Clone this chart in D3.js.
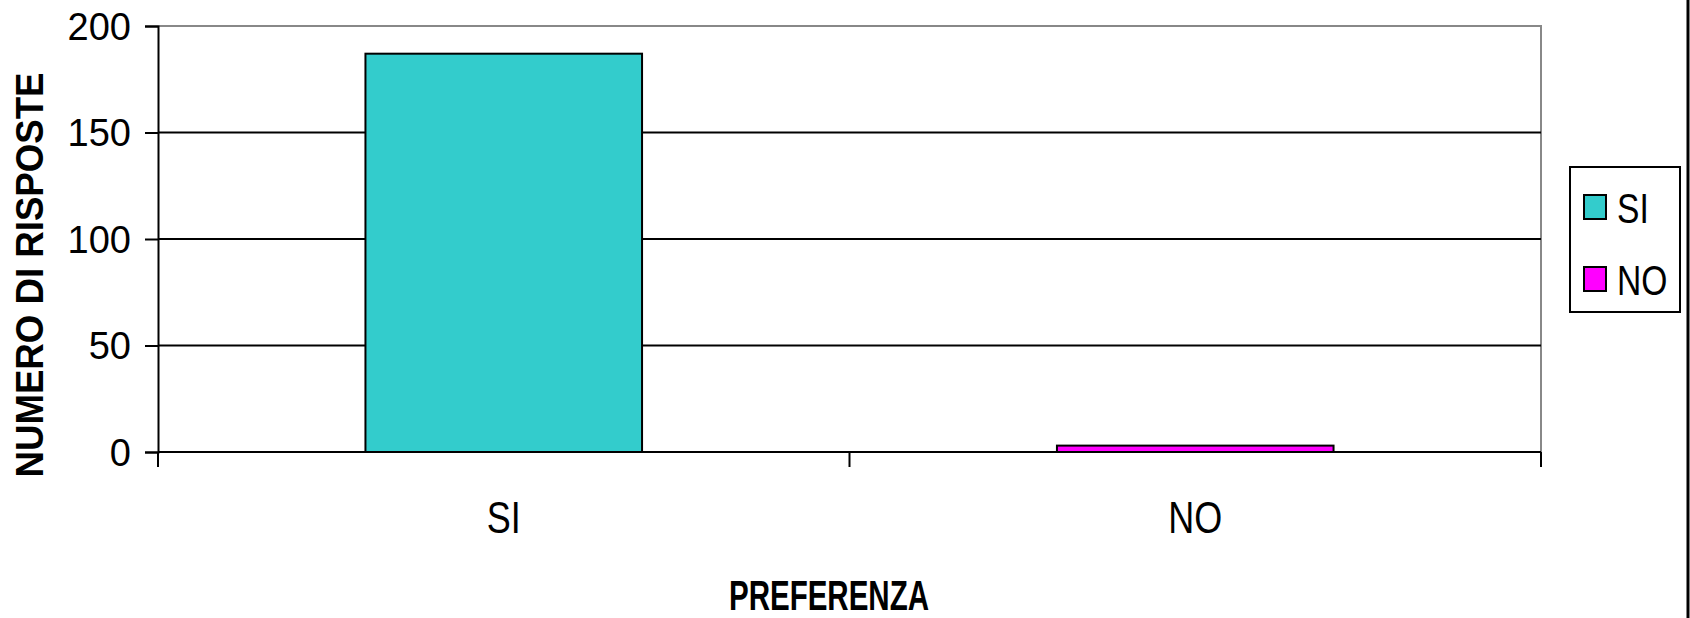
<!DOCTYPE html>
<meta charset="utf-8">
<body style="margin:0;background:#fff">
<script src="https://d3js.org/d3.v7.min.js"></script>
<script>
var categories = ["SI", "NO"];
var values = [187, 3];
var colors = ["#33cccc", "#ff00ff"];
var yTicks = [0, 50, 100, 150, 200];

var width = 1690, height = 618;
var margin = {left: 158, right: 149, top: 26, bottom: 166};

var svg = d3.select("body").append("svg")
    .attr("width", width)
    .attr("height", height)
    .style("display", "block");

var x = d3.scaleBand()
    .domain(categories)
    .range([margin.left, width - margin.right])
    .paddingInner(0.6)
    .paddingOuter(0.3);

var y = d3.scaleLinear()
    .domain([0, 200])
    .range([height - margin.bottom, margin.top]);

var x0 = margin.left, x1 = width - margin.right;

// squeeze text horizontally, like Arial Narrow
function narrow(sel, k) {
  sel.each(function() {
    var w = this.getComputedTextLength();
    d3.select(this)
      .attr("textLength", w * k)
      .attr("lengthAdjust", "spacingAndGlyphs");
  });
}

// plot border (top + right, grey)
svg.append("path")
    .attr("d", "M" + x0 + "," + y(200) + "H" + x1 + "V" + y(0))
    .attr("fill", "none")
    .attr("stroke", "#888")
    .attr("stroke-width", 2);

// gridlines
svg.append("g").selectAll("line")
    .data(yTicks.filter(function(d) { return d > 0 && d < 200; }))
    .enter().append("line")
    .attr("x1", x0).attr("x2", x1)
    .attr("y1", function(d) { return y(d); })
    .attr("y2", function(d) { return y(d); })
    .attr("stroke", "#000")
    .attr("stroke-width", 2);

// bars
svg.append("g").selectAll("rect")
    .data(values)
    .enter().append("rect")
    .attr("x", function(d, i) { return x(categories[i]); })
    .attr("width", x.bandwidth())
    .attr("y", function(d) { return y(d); })
    .attr("height", function(d) { return y(0) - y(d); })
    .attr("fill", function(d, i) { return colors[i]; })
    .attr("stroke", "#000")
    .attr("stroke-width", 2);

// y axis
var yAxis = svg.append("g")
    .attr("transform", "translate(" + x0 + ",0)")
    .call(d3.axisLeft(y).tickValues(yTicks).tickSize(13).tickPadding(14));
yAxis.select(".domain").attr("stroke-width", 2);
yAxis.selectAll(".tick line").attr("stroke-width", 2);
yAxis.selectAll("text")
    .attr("dy", "0.35em")
    .style("font-family", "'Liberation Sans', Arial, sans-serif")
    .style("font-size", "38px")
    .attr("fill", "#000");

// x axis: ticks on category boundaries
var bounds = [x0, (x0 + x1) / 2, x1];
var xAxis = svg.append("g");
xAxis.append("line")
    .attr("x1", x0).attr("x2", x1)
    .attr("y1", y(0)).attr("y2", y(0))
    .attr("stroke", "#000").attr("stroke-width", 2);
xAxis.selectAll("line.tk")
    .data(bounds)
    .enter().append("line")
    .attr("class", "tk")
    .attr("x1", function(d) { return d; }).attr("x2", function(d) { return d; })
    .attr("y1", y(0)).attr("y2", y(0) + 15)
    .attr("stroke", "#000").attr("stroke-width", 2);
xAxis.selectAll("text")
    .data(categories)
    .enter().append("text")
    .attr("x", function(d) { return x(d) + x.bandwidth() / 2; })
    .attr("y", 533)
    .attr("text-anchor", "middle")
    .style("font-family", "'Liberation Sans', Arial, sans-serif")
    .style("font-size", "45px")
    .text(function(d) { return d; })
    .call(narrow, 0.8);

// axis titles
svg.append("text")
    .attr("x", 829)
    .attr("y", 610)
    .attr("text-anchor", "middle")
    .attr("textLength", 200)
    .attr("lengthAdjust", "spacingAndGlyphs")
    .style("font-family", "'Liberation Sans', Arial, sans-serif")
    .style("font-weight", "bold")
    .style("font-size", "43px")
    .text("PREFERENZA");

svg.append("text")
    .attr("transform", "translate(43,275) rotate(-90)")
    .attr("text-anchor", "middle")
    .attr("textLength", 405)
    .attr("lengthAdjust", "spacingAndGlyphs")
    .style("font-family", "'Liberation Sans', Arial, sans-serif")
    .style("font-weight", "bold")
    .style("font-size", "39px")
    .text("NUMERO DI RISPOSTE");

// legend
var legend = svg.append("g");
legend.append("rect")
    .attr("x", 1570).attr("y", 167)
    .attr("width", 110).attr("height", 145)
    .attr("fill", "#fff")
    .attr("stroke", "#000")
    .attr("stroke-width", 2);
var item = legend.selectAll("g.item")
    .data(categories)
    .enter().append("g")
    .attr("class", "item")
    .attr("transform", function(d, i) { return "translate(0," + (i * 72) + ")"; });
item.append("rect")
    .attr("x", 1584).attr("y", 195)
    .attr("width", 22).attr("height", 24)
    .attr("fill", function(d, i) { return colors[i]; })
    .attr("stroke", "#000")
    .attr("stroke-width", 2);
item.append("text")
    .attr("x", 1617).attr("y", 223)
    .style("font-family", "'Liberation Sans', Arial, sans-serif")
    .style("font-size", "42px")
    .text(function(d) { return d; })
    .call(narrow, 0.8);

// chart area right edge
svg.append("line")
    .attr("x1", 1688).attr("x2", 1688)
    .attr("y1", 0).attr("y2", height)
    .attr("stroke", "#000")
    .attr("stroke-width", 3);
</script>
</body>
